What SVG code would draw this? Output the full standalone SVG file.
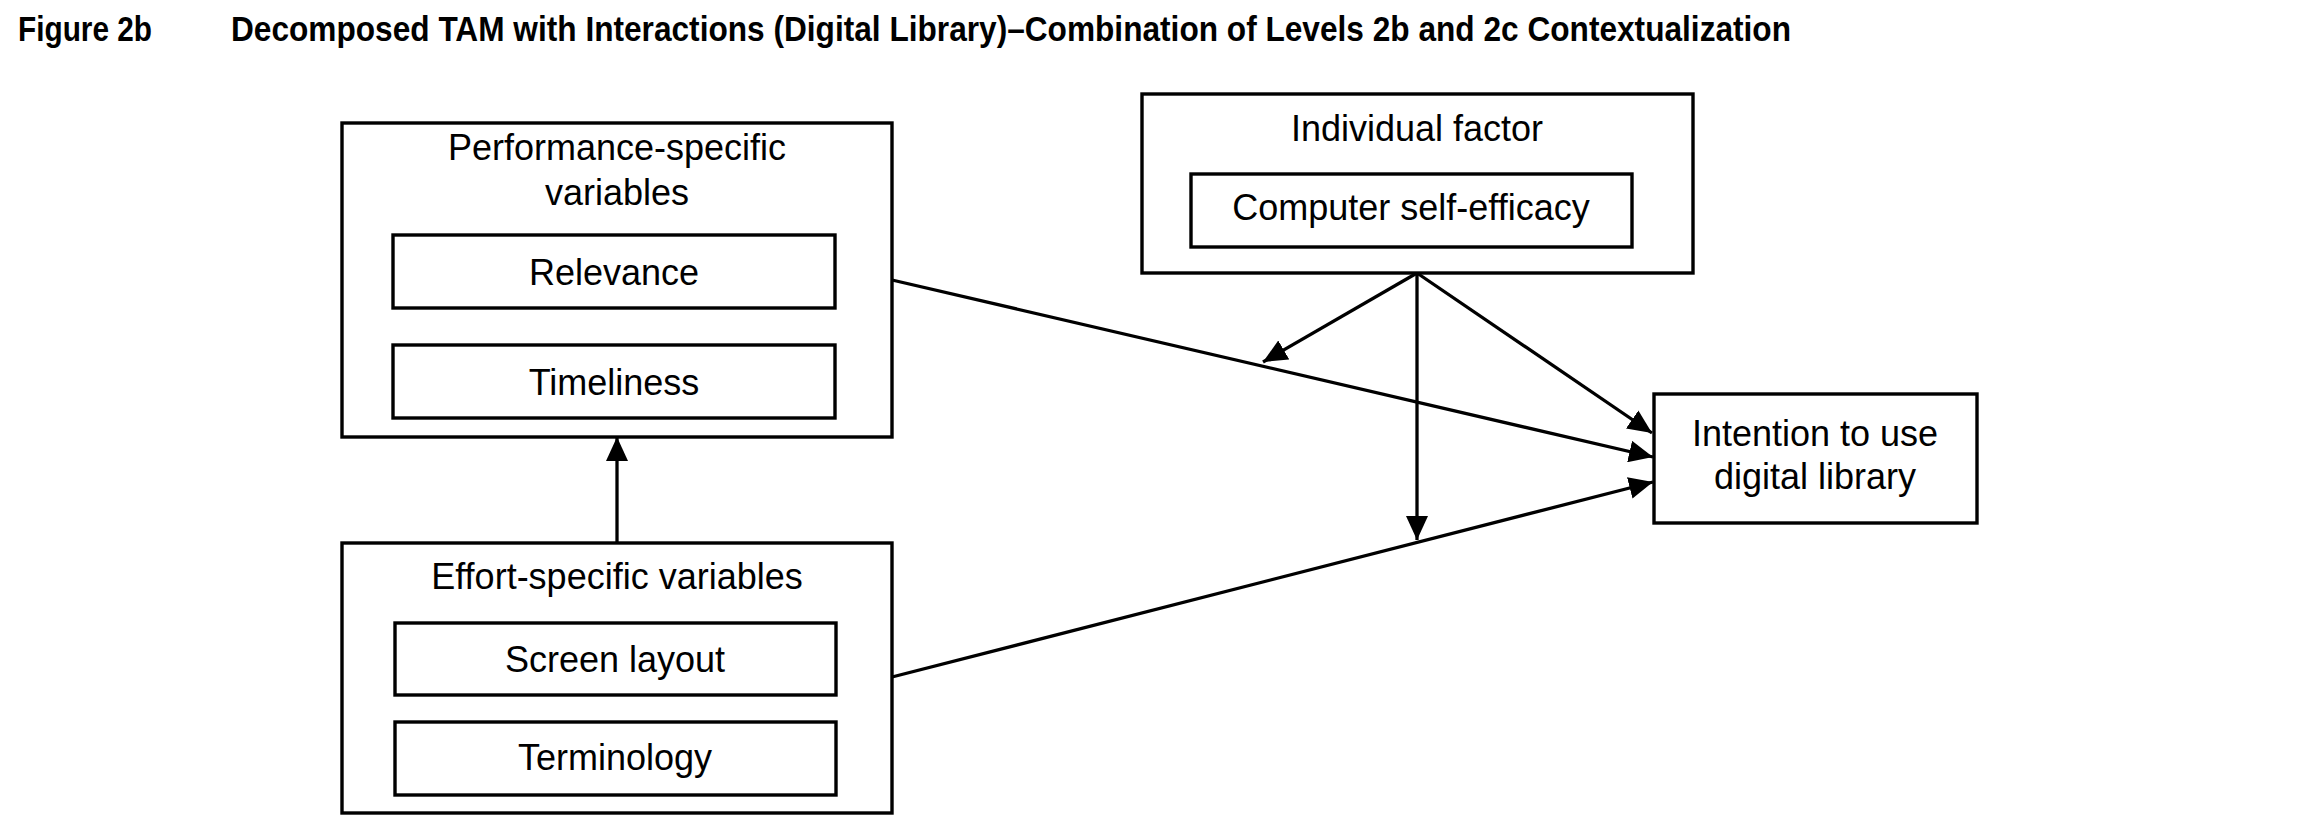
<svg xmlns="http://www.w3.org/2000/svg" width="2312" height="836" viewBox="0 0 2312 836">
<defs>
<style>
.box{fill:#fff;stroke:#000;stroke-width:3.4}
.t{font-family:"Liberation Sans",Arial,sans-serif;font-size:36px;fill:#000;text-anchor:middle}
.title{font-family:"Liberation Sans",Arial,sans-serif;font-weight:bold;font-size:35px;fill:#000}
.c{stroke:#000;stroke-width:3.3;fill:none;marker-end:url(#ah)}
</style>
<marker id="ah" markerUnits="userSpaceOnUse" markerWidth="24" markerHeight="22" refX="24" refY="11" orient="auto" viewBox="0 0 24 22">
<path d="M0,0 L24,11 L0,22 z" fill="#000"/>
</marker>
</defs>
<rect width="2312" height="836" fill="#fff"/>
<g id="title">
<text class="title" x="18" y="41" textLength="134" lengthAdjust="spacingAndGlyphs">Figure 2b</text>
<text class="title" x="231" y="41" textLength="1560" lengthAdjust="spacingAndGlyphs">Decomposed TAM with Interactions (Digital Library)–Combination of Levels 2b and 2c Contextualization</text>
</g>
<g id="connectors">
<line class="c" x1="892" y1="280" x2="1653" y2="457"/>
<line class="c" x1="892" y1="677" x2="1653" y2="482"/>
<line class="c" x1="1417" y1="273" x2="1652" y2="433"/>
<line class="c" x1="1417" y1="273" x2="1417" y2="540"/>
<line class="c" x1="1417" y1="273" x2="1263" y2="362"/>
<line class="c" x1="617" y1="543" x2="617" y2="437"/>
</g>
<g id="performance">
<rect class="box" x="342" y="123" width="550" height="314"/>
<text class="t" x="617" y="160">Performance-specific</text>
<text class="t" x="617" y="205">variables</text>
<g id="relevance">
<rect class="box" x="393" y="235" width="442" height="73"/>
<text class="t" x="614" y="285">Relevance</text>
</g>
<g id="timeliness">
<rect class="box" x="393" y="345" width="442" height="73"/>
<text class="t" x="614" y="395">Timeliness</text>
</g>
</g>
<g id="effort">
<rect class="box" x="342" y="543" width="550" height="270"/>
<text class="t" x="617" y="589">Effort-specific variables</text>
<g id="screen-layout">
<rect class="box" x="395" y="623" width="441" height="72"/>
<text class="t" x="615" y="672">Screen layout</text>
</g>
<g id="terminology">
<rect class="box" x="395" y="722" width="441" height="73"/>
<text class="t" x="615" y="770">Terminology</text>
</g>
</g>
<g id="individual">
<rect class="box" x="1142" y="94" width="551" height="179"/>
<text class="t" x="1417" y="141">Individual factor</text>
<g id="self-efficacy">
<rect class="box" x="1191" y="174" width="441" height="73"/>
<text class="t" x="1411" y="220">Computer self-efficacy</text>
</g>
</g>
<g id="intention">
<rect class="box" x="1654" y="394" width="323" height="129"/>
<text class="t" x="1815" y="446">Intention to use</text>
<text class="t" x="1815" y="489">digital library</text>
</g>
</svg>
